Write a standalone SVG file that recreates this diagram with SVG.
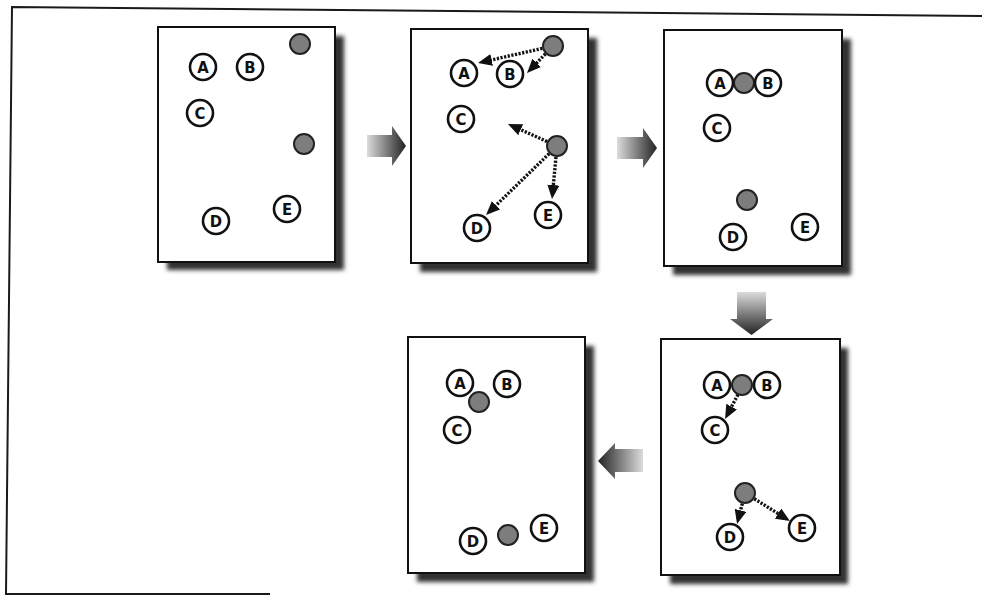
<svg xmlns="http://www.w3.org/2000/svg" width="982" height="597" viewBox="0 0 982 597">
<style>
  .frame{fill:none;stroke:#1a1a1a;stroke-width:2}
  .panel{fill:#fff;stroke:#111;stroke-width:2}
  .shadow{fill:#333;filter:url(#blur)}
  .n circle{fill:#fff;stroke:#111;stroke-width:2.6}
  .n text{font-family:"DejaVu Sans Condensed","Liberation Sans Narrow","Liberation Sans",sans-serif;font-weight:bold;font-size:16.5px;text-anchor:middle;fill:#111}
  .dot{fill:#7d7d7d;stroke:#222;stroke-width:2}
  .dash{fill:none;stroke:#111;stroke-width:3.4;stroke-dasharray:2.2 1.5;marker-end:url(#ah)}
</style>
<defs>
  <filter id="blur" x="-10%" y="-10%" width="120%" height="120%"><feGaussianBlur stdDeviation="2"/></filter>
  <marker id="ah" markerUnits="userSpaceOnUse" markerWidth="16" markerHeight="14" refX="9" refY="6" orient="auto">
    <path d="M0,0 L14,6 L0,12 z" fill="#111"/>
  </marker>
  <linearGradient id="gR" x1="0" y1="0" x2="1" y2="0"><stop offset="0" stop-color="#dcdcdc"/><stop offset="1" stop-color="#222"/></linearGradient>
  <linearGradient id="gL" x1="1" y1="0" x2="0" y2="0"><stop offset="0" stop-color="#dcdcdc"/><stop offset="1" stop-color="#222"/></linearGradient>
  <linearGradient id="gD" x1="0" y1="0" x2="0" y2="1"><stop offset="0" stop-color="#dcdcdc"/><stop offset="1" stop-color="#222"/></linearGradient>
</defs>

<g id="outer-frame">
  <path class="frame" d="M982,16 L12,7 L6,594 L270,594"/>
</g>

<g id="panel1">
  <rect class="shadow" x="167" y="36" width="177" height="234"/>
  <rect class="panel" x="158" y="27" width="177" height="235"/>
  <g id="p1-A" class="n"><circle cx="203" cy="67" r="13"/><text x="203" y="73">A</text></g>
  <g id="p1-B" class="n"><circle cx="250" cy="67" r="13"/><text x="250" y="73">B</text></g>
  <g id="p1-C" class="n"><circle cx="200" cy="113" r="13"/><text x="200" y="119">C</text></g>
  <g id="p1-D" class="n"><circle cx="216" cy="221" r="13"/><text x="216" y="227">D</text></g>
  <g id="p1-E" class="n"><circle cx="287" cy="209" r="13"/><text x="287" y="215">E</text></g>
  <circle id="p1-k1" class="dot" cx="300" cy="44" r="10"/>
  <circle id="p1-k2" class="dot" cx="304" cy="144" r="10"/>
</g>

<g id="panel2">
  <rect class="shadow" x="420" y="38" width="177" height="234"/>
  <rect class="panel" x="411" y="29" width="177" height="234"/>
  <g id="p2-A" class="n"><circle cx="464" cy="73" r="13"/><text x="464" y="79">A</text></g>
  <g id="p2-B" class="n"><circle cx="510" cy="74" r="13"/><text x="510" y="80">B</text></g>
  <g id="p2-C" class="n"><circle cx="461" cy="119" r="13"/><text x="461" y="125">C</text></g>
  <g id="p2-D" class="n"><circle cx="477" cy="228" r="13"/><text x="477" y="234">D</text></g>
  <g id="p2-E" class="n"><circle cx="548" cy="215" r="13"/><text x="548" y="221">E</text></g>
  <circle id="p2-k1" class="dot" cx="553" cy="46" r="10"/>
  <circle id="p2-k2" class="dot" cx="557" cy="146" r="10"/>
</g>

<g id="panel3">
  <rect class="shadow" x="673" y="39" width="178" height="236"/>
  <rect class="panel" x="664" y="30" width="178" height="236"/>
  <circle id="p3-k1" class="dot" cx="744" cy="83" r="10"/>
  <g id="p3-A" class="n"><circle cx="720" cy="83" r="13"/><text x="720" y="89">A</text></g>
  <g id="p3-B" class="n"><circle cx="768" cy="83" r="13"/><text x="768" y="89">B</text></g>
  <g id="p3-C" class="n"><circle cx="717" cy="128" r="13"/><text x="717" y="134">C</text></g>
  <g id="p3-D" class="n"><circle cx="733" cy="237" r="13"/><text x="733" y="243">D</text></g>
  <g id="p3-E" class="n"><circle cx="805" cy="227" r="13"/><text x="805" y="233">E</text></g>
  <circle id="p3-k2" class="dot" cx="747" cy="200" r="10"/>
</g>

<g id="panel4">
  <rect class="shadow" x="670" y="348" width="178" height="236"/>
  <rect class="panel" x="661" y="339" width="179" height="236"/>
  <circle id="p4-k1" class="dot" cx="742" cy="385" r="10"/>
  <g id="p4-A" class="n"><circle cx="717" cy="385" r="13"/><text x="717" y="391">A</text></g>
  <g id="p4-B" class="n"><circle cx="767" cy="385" r="13"/><text x="767" y="391">B</text></g>
  <g id="p4-C" class="n"><circle cx="715" cy="430" r="13"/><text x="715" y="436">C</text></g>
  <g id="p4-D" class="n"><circle cx="730" cy="537" r="13"/><text x="730" y="543">D</text></g>
  <g id="p4-E" class="n"><circle cx="802" cy="528" r="13"/><text x="802" y="534">E</text></g>
  <circle id="p4-k2" class="dot" cx="745" cy="493" r="10"/>
</g>

<g id="panel5">
  <rect class="shadow" x="417" y="346" width="177" height="236"/>
  <rect class="panel" x="408" y="337" width="177" height="236"/>
  <g id="p5-A" class="n"><circle cx="460" cy="383" r="13"/><text x="460" y="389">A</text></g>
  <g id="p5-B" class="n"><circle cx="507" cy="384" r="13"/><text x="507" y="390">B</text></g>
  <g id="p5-C" class="n"><circle cx="457" cy="430" r="13"/><text x="457" y="436">C</text></g>
  <g id="p5-D" class="n"><circle cx="473" cy="541" r="13"/><text x="473" y="547">D</text></g>
  <g id="p5-E" class="n"><circle cx="544" cy="528" r="13"/><text x="544" y="534">E</text></g>
  <circle id="p5-k1" class="dot" cx="479" cy="402" r="10"/>
  <circle id="p5-k2" class="dot" cx="508" cy="535" r="10"/>
</g>

<g id="connectors">
  <path d="M367,135 L392,135 L392,126 L406,146 L392,166 L392,157 L367,157 z" fill="url(#gR)"/>
  <path d="M617,137 L643,137 L643,128 L657,148 L643,168 L643,159 L617,159 z" fill="url(#gR)"/>
  <path d="M737,292 L766,292 L766,319 L773,319 L751.5,335 L730,319 L737,319 z" fill="url(#gD)"/>
  <path d="M643,449 L615,449 L615,443 L598,461 L615,479 L615,472 L643,472 z" fill="url(#gL)"/>

  <line class="dash" x1="542.3" y1="48.4" x2="482.9" y2="61.9"/>
  <line class="dash" x1="545.4" y1="53.9" x2="530.5" y2="69.4"/>
  <line class="dash" x1="547" y1="141.5" x2="512.5" y2="126"/>
  <line class="dash" x1="549.1" y1="153.7" x2="489.6" y2="211.5"/>
  <line class="dash" x1="556" y1="157" x2="552.5" y2="194"/>

  <line class="dash" x1="737.9" y1="394.7" x2="727.4" y2="414.6"/>
  <line class="dash" x1="742.3" y1="503.6" x2="738.3" y2="519.1"/>
  <line class="dash" x1="754.3" y1="498.8" x2="785.7" y2="518.3"/>
</g>
</svg>
